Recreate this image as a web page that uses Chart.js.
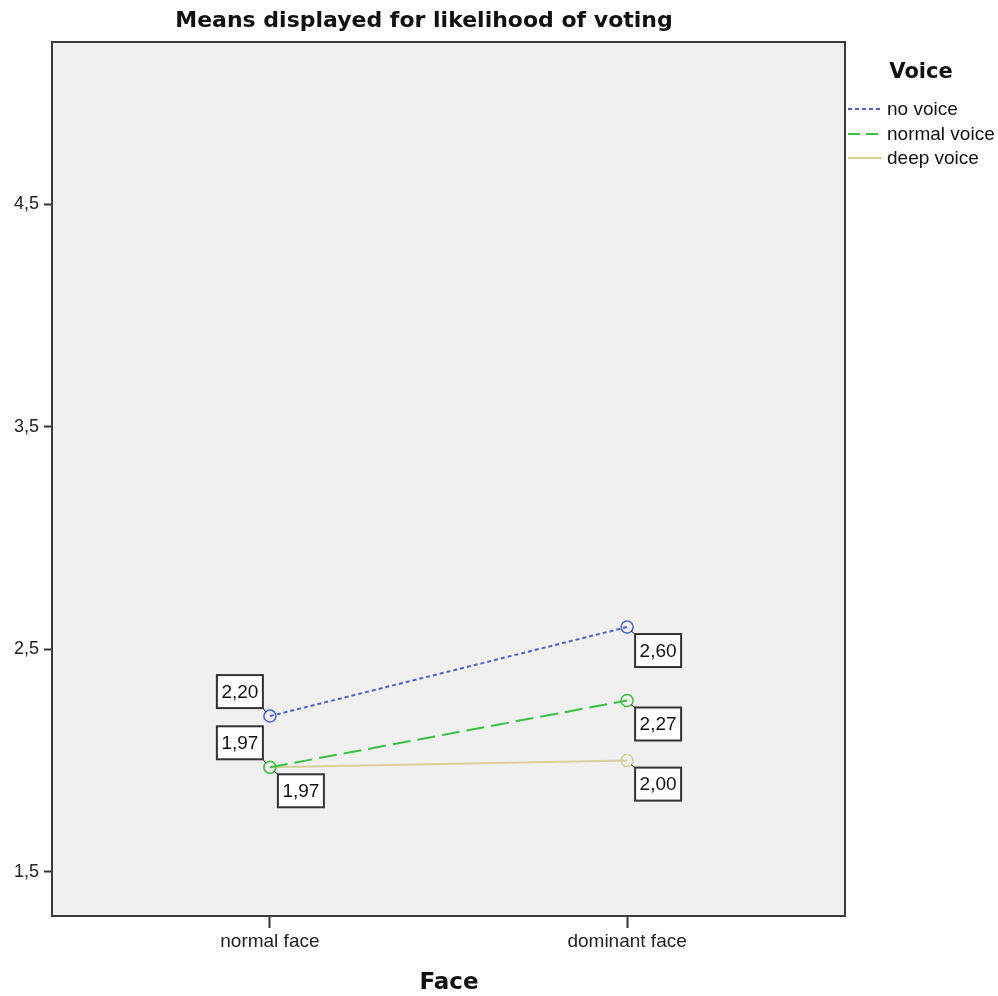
<!DOCTYPE html>
<html><head><meta charset="utf-8">
<script src="https://cdn.jsdelivr.net/npm/chart.js@4/dist/chart.umd.min.js"></script>
<style>html,body{margin:0;padding:0;background:#fff;}canvas{display:block;}</style>
</head><body>
<canvas id="c" width="998" height="996"></canvas>
<script>
const categories = ["normal face", "dominant face"];
const seriesNames = ["no voice", "normal voice", "deep voice"];
const noVoice = [2.20, 2.60];
const normalVoice = [1.97, 2.27];
const deepVoice = [1.97, 2.00];
const yTicks = [1.5, 2.5, 3.5, 4.5];
const titleText = "Means displayed for likelihood of voting";
const xTitle = "Face";
const legendTitle = "Voice";

const colors = ["#4a62c8", "#3cbf47", "#d6d09a"];
const dashes = [[4,3], [18,7], []];
// label placement per series per point: 'ul' up-left, 'dr' down-right
const placement = [["ul","dr"], ["ul","dr"], ["dr","dr"]];
const allSeries = [noVoice, normalVoice, deepVoice];

const fmt = v => v.toFixed(2).replace('.', ',');

const datasets = allSeries.map((s, i) => ({
  label: seriesNames[i],
  data: s.map((v, j) => ({x: j, y: v})),
  borderColor: colors[i],
  backgroundColor: 'rgba(0,0,0,0)',
  borderWidth: 2,
  borderDash: dashes[i],
  pointRadius: 6,
  pointBorderWidth: 1.5,
  pointBorderColor: colors[i],
  pointBackgroundColor: 'rgba(0,0,0,0)',
  tension: 0
}));

const decor = {
  id: 'decor',
  beforeDraw(chart) {
    const {ctx, chartArea: a} = chart;
    ctx.save();
    ctx.fillStyle = '#f0f0f0';
    ctx.fillRect(a.left, a.top, a.right - a.left, a.bottom - a.top);
    ctx.restore();
  },
  afterDraw(chart) {
    const {ctx, chartArea: a} = chart;
    const xs = chart.scales.x, ys = chart.scales.y;
    ctx.save();
    ctx.strokeStyle = '#3a3a3a';
    ctx.lineWidth = 2;
    ctx.setLineDash([]);
    ctx.strokeRect(a.left, a.top, a.right - a.left, a.bottom - a.top);
    ctx.fillStyle = '#111';
    ctx.font = 'bold 22px "DejaVu Sans"';
    ctx.textAlign = 'center';
    ctx.textBaseline = 'middle';
    ctx.fillText(titleText, 424, 21);
    ctx.font = 'bold 23px "DejaVu Sans"';
    ctx.fillText(xTitle, 449, 983);
    ctx.font = 'bold 21px "DejaVu Sans"';
    ctx.fillText(legendTitle, 921, 73);
    ctx.font = '19px "Liberation Sans"';
    ctx.textAlign = 'left';
    const ly = [109, 134, 158];
    seriesNames.forEach((n, i) => {
      ctx.strokeStyle = colors[i];
      ctx.lineWidth = 2;
      ctx.setLineDash(i === 1 ? [12,6] : dashes[i]);
      ctx.beginPath();
      ctx.moveTo(848, ly[i]);
      ctx.lineTo(882, ly[i]);
      ctx.stroke();
      ctx.setLineDash([]);
      ctx.fillStyle = '#111';
      ctx.fillText(n, 887, ly[i] + 1);
    });
    const bw = 46, bh = 33;
    allSeries.forEach((s, i) => {
      s.forEach((v, j) => {
        const px = xs.getPixelForValue(j), py = ys.getPixelForValue(v);
        let bx, by, cx, cy;
        if (placement[i][j] === 'ul') {
          bx = px - 7 - bw; by = py - 8 - bh; cx = px - 7; cy = py - 8;
        } else {
          bx = px + 8; by = py + 7; cx = bx; cy = by;
        }
        ctx.strokeStyle = '#222';
        ctx.lineWidth = 1;
        ctx.beginPath();
        ctx.moveTo(px + (cx > px ? 4 : -4), py + (cy > py ? 4 : -4));
        ctx.lineTo(cx, cy);
        ctx.stroke();
        ctx.fillStyle = '#fff';
        ctx.fillRect(bx, by, bw, bh);
        ctx.strokeStyle = '#333';
        ctx.lineWidth = 2;
        ctx.strokeRect(bx, by, bw, bh);
        ctx.fillStyle = '#111';
        ctx.font = '19px "Liberation Sans"';
        ctx.textAlign = 'center';
        ctx.textBaseline = 'middle';
        ctx.fillText(fmt(v), bx + bw / 2, by + bh / 2 + 1);
      });
    });
    ctx.restore();
  }
};

new Chart(document.getElementById('c'), {
  type: 'line',
  data: {datasets},
  options: {
    responsive: false,
    animation: false,
    layout: {padding: {top: 42, right: 153, left: 0, bottom: 0}},
    plugins: {legend: {display: false}, title: {display: false}, tooltip: {enabled: false}},
    scales: {
      x: {
        type: 'linear', min: -0.61, max: 1.61,
        afterBuildTicks: s => { s.ticks = categories.map((c, i) => ({value: i})); },
        afterFit: s => { s.height = 80; },
        ticks: {callback: (v) => categories[v] ?? '', color: '#222', font: {family: 'Liberation Sans', size: 19}, padding: 2, maxRotation: 0, autoSkip: false},
        grid: {drawOnChartArea: false, drawTicks: true, tickLength: 12, tickColor: '#333', tickWidth: 2},
        border: {display: true, color: '#3a3a3a', width: 2}
      },
      y: {
        type: 'linear', min: 1.302, max: 5.228,
        afterBuildTicks: s => { s.ticks = yTicks.map(v => ({value: v})); },
        afterFit: s => { s.width = 52; },
        ticks: {callback: v => String(v).replace('.', ','), color: '#222', font: {family: 'Liberation Sans', size: 18}, padding: 5, autoSkip: false},
        grid: {drawOnChartArea: false, drawTicks: true, tickLength: 8, tickColor: '#333', tickWidth: 2},
        border: {display: true, color: '#3a3a3a', width: 2}
      }
    }
  },
  plugins: [decor]
});
</script>
</body></html>
